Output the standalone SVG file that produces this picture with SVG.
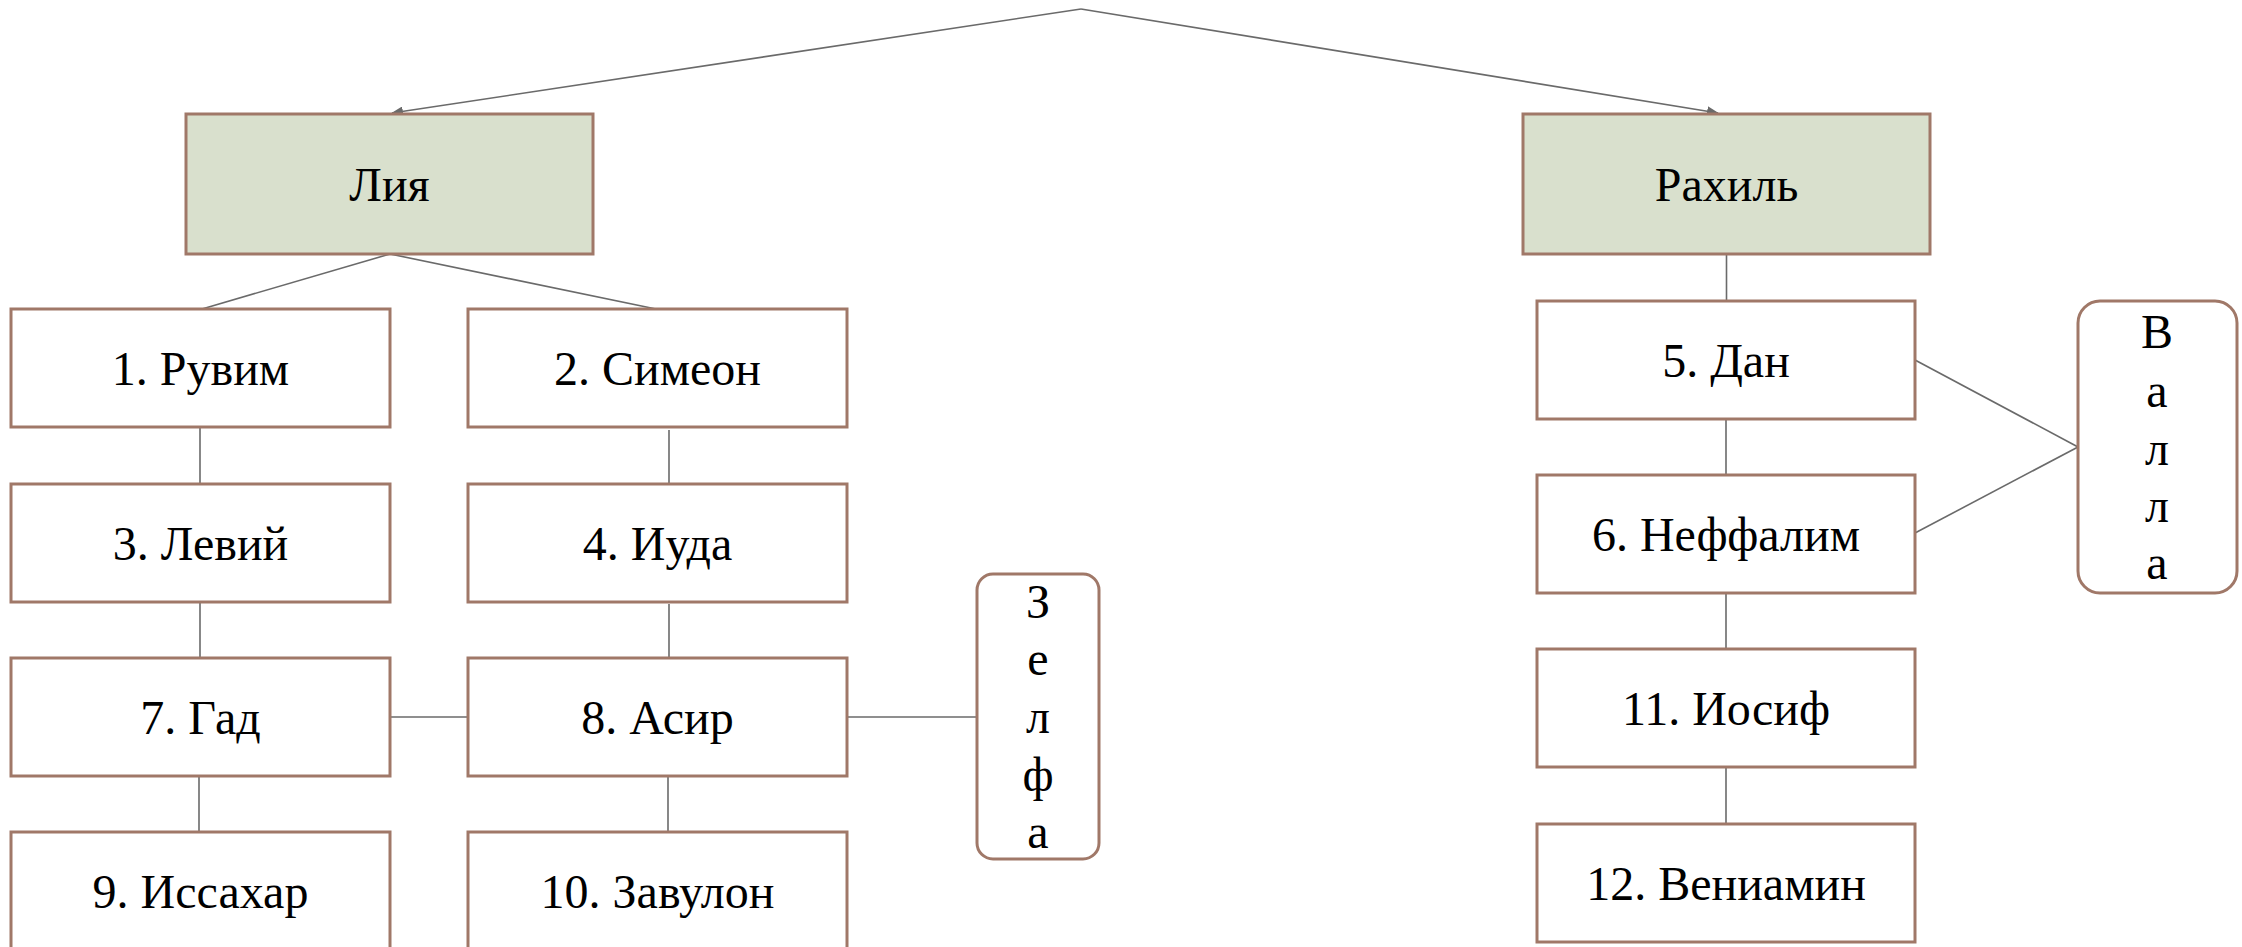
<svg xmlns="http://www.w3.org/2000/svg" width="2242" height="947" viewBox="0 0 2242 947">
<style>
.box{fill:#ffffff;stroke:#a07868;stroke-width:3}
.wife{fill:#d9e0cd;stroke:#a07868;stroke-width:3}
.t{font-family:"Liberation Serif","Times New Roman",serif;font-size:48px;fill:#000;text-anchor:middle}
.c{stroke:#6a6a6a;stroke-width:1.6;fill:none}
</style>
<defs>
<marker id="ah" markerUnits="userSpaceOnUse" markerWidth="12" markerHeight="10" refX="11" refY="5" orient="auto">
<path d="M0,0 L12,5 L0,10 Z" fill="#6a6a6a"/>
</marker>
</defs>
<rect width="2242" height="947" fill="#ffffff"/>
<g id="connectors">
<line class="c" x1="1081" y1="9" x2="392" y2="113" marker-end="url(#ah)"/>
<line class="c" x1="1081" y1="9" x2="1718" y2="113" marker-end="url(#ah)"/>
<line class="c" x1="390" y1="254" x2="202" y2="309"/>
<line class="c" x1="390" y1="254" x2="656" y2="309"/>
<line class="c" x1="200" y1="427" x2="200" y2="484"/>
<line class="c" x1="200" y1="602" x2="200" y2="658"/>
<line class="c" x1="199" y1="776" x2="199" y2="832"/>
<line class="c" x1="669" y1="430" x2="669" y2="484"/>
<line class="c" x1="669" y1="604" x2="669" y2="660"/>
<line class="c" x1="668" y1="776" x2="668" y2="832"/>
<line class="c" x1="390" y1="717" x2="468" y2="717"/>
<line class="c" x1="847" y1="717" x2="977" y2="717"/>
<line class="c" x1="1726.5" y1="254" x2="1726.5" y2="301"/>
<line class="c" x1="1726" y1="419" x2="1726" y2="475"/>
<line class="c" x1="1726" y1="593" x2="1726" y2="649"/>
<line class="c" x1="1726" y1="767" x2="1726" y2="824"/>
<line class="c" x1="1915" y1="360" x2="2078" y2="447"/>
<line class="c" x1="1915" y1="533" x2="2078" y2="447"/>
</g>
<g id="lia"><rect class="wife" x="186" y="114" width="407" height="140"/><text class="t" x="389.5" y="201">Лия</text></g>
<g id="rahil"><rect class="wife" x="1523" y="114" width="407" height="140"/><text class="t" x="1726.5" y="201">Рахиль</text></g>
<g id="n1"><rect class="box" x="11" y="309" width="379" height="118"/><text class="t" x="200.5" y="385">1. Рувим</text></g>
<g id="n2"><rect class="box" x="468" y="309" width="379" height="118"/><text class="t" x="657.5" y="385">2. Симеон</text></g>
<g id="n3"><rect class="box" x="11" y="484" width="379" height="118"/><text class="t" x="200.5" y="560">3. Левий</text></g>
<g id="n4"><rect class="box" x="468" y="484" width="379" height="118"/><text class="t" x="657.5" y="560">4. Иуда</text></g>
<g id="n7"><rect class="box" x="11" y="658" width="379" height="118"/><text class="t" x="200.5" y="734">7. Гад</text></g>
<g id="n8"><rect class="box" x="468" y="658" width="379" height="118"/><text class="t" x="657.5" y="734">8. Асир</text></g>
<g id="n9"><rect class="box" x="11" y="832" width="379" height="118"/><text class="t" x="200.5" y="908">9. Иссахар</text></g>
<g id="n10"><rect class="box" x="468" y="832" width="379" height="118"/><text class="t" x="657.5" y="908">10. Завулон</text></g>
<g id="n5"><rect class="box" x="1537" y="301" width="378" height="118"/><text class="t" x="1726" y="377">5. Дан</text></g>
<g id="n6"><rect class="box" x="1537" y="475" width="378" height="118"/><text class="t" x="1726" y="551">6. Неффалим</text></g>
<g id="n11"><rect class="box" x="1537" y="649" width="378" height="118"/><text class="t" x="1726" y="725">11. Иосиф</text></g>
<g id="n12"><rect class="box" x="1537" y="824" width="378" height="118"/><text class="t" x="1726" y="900">12. Вениамин</text></g>
<g id="zelfa"><rect class="box" x="977" y="574" width="122" height="285" rx="16" ry="16"/>
<text class="t" x="1038" y="618">З</text><text class="t" x="1038" y="675">е</text><text class="t" x="1038" y="733">л</text><text class="t" x="1038" y="791">ф</text><text class="t" x="1038" y="848">а</text></g>
<g id="valla"><rect class="box" x="2078" y="301" width="159" height="292" rx="22" ry="22"/>
<text class="t" x="2157" y="348">В</text><text class="t" x="2157" y="407">а</text><text class="t" x="2157" y="465">л</text><text class="t" x="2157" y="522">л</text><text class="t" x="2157" y="579">а</text></g>
</svg>
